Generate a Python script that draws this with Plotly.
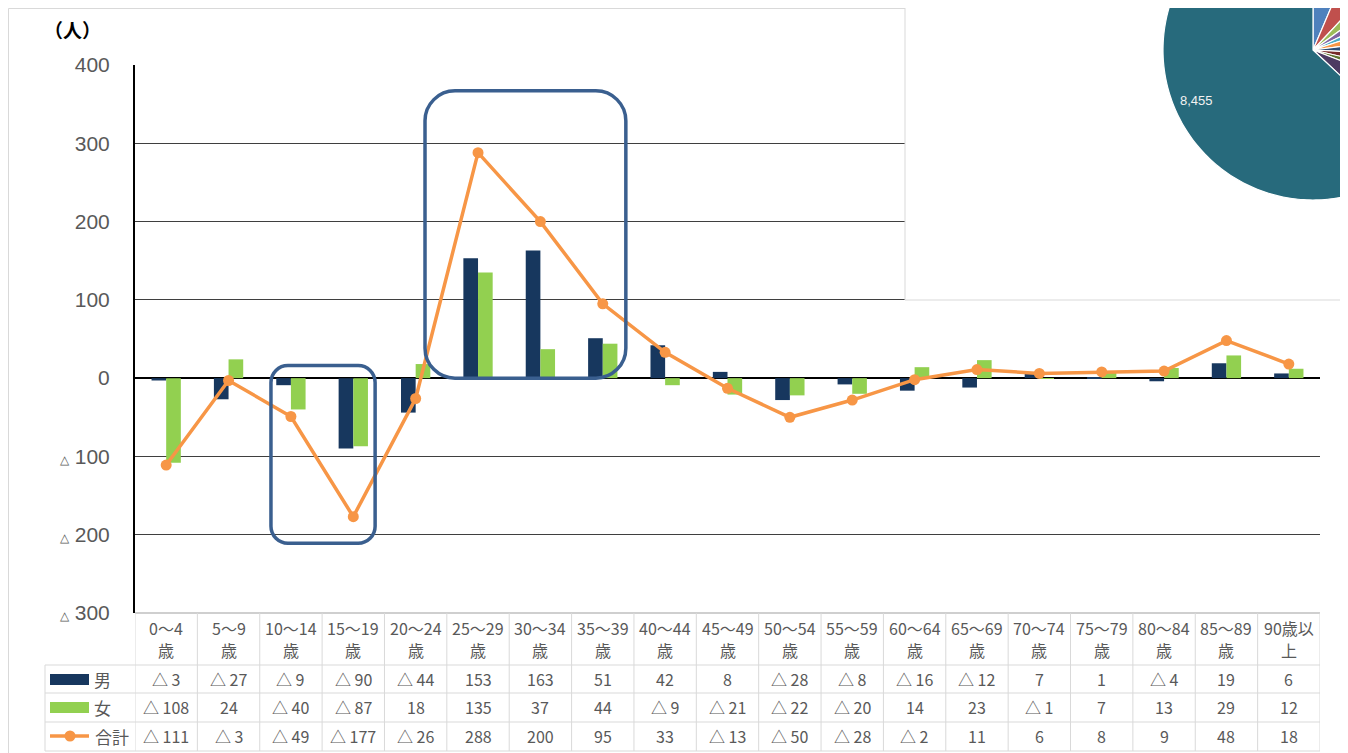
import math
import plotly.graph_objects as go

# ---------------- data ----------------
categories = ["0～4歳", "5～9歳", "10～14歳", "15～19歳", "20～24歳", "25～29歳",
              "30～34歳", "35～39歳", "40～44歳", "45～49歳", "50～54歳", "55～59歳",
              "60～64歳", "65～69歳", "70～74歳", "75～79歳", "80～84歳", "85～89歳",
              "90歳以上"]
male = [-3, -27, -9, -90, -44, 153, 163, 51, 42, 8, -28, -8, -16, -12, 7, 1, -4, 19, 6]
female = [-108, 24, -40, -87, 18, 135, 37, 44, -9, -21, -22, -20, 14, 23, -1, 7, 13, 29, 12]
total = [-111, -3, -49, -177, -26, 288, 200, 95, 33, -13, -50, -28, -2, 11, 6, 8, 9, 48, 18]
series_names = ["男", "女", "合計"]
y_ticks = [400, 300, 200, 100, 0, -100, -200, -300]

# partially visible pie in the top-right corner
pie_values = [857, 745, 410, 373, 298, 410, 373, 373, 298, 820, 8455]
pie_colors = ["#4F81BD", "#C0504D", "#9BBB59", "#8064A2", "#4BACC6", "#F79646",
              "#2C4D75", "#772C2A", "#5F7530", "#4D3B62", "#276A7C"]
pie_label_index = 10

# ---------------- layout helpers ----------------
W, H = 1348, 753
OFF = 8  # page body margin
def px(x):
    return (x - OFF) / W
def py(y):
    return 1 - (y - OFF) / H

PLOT_L, PLOT_R, PLOT_T, PLOT_B = 135, 1320, 65, 613
Y_MIN, Y_MAX = -300, 400
n = len(categories)
x_unit = (PLOT_R - PLOT_L) / n            # px per category
y_unit = (PLOT_B - PLOT_T) / (Y_MAX - Y_MIN)  # px per value unit

NAVY = "#17375E"
GREEN = "#92D050"
ORANGE = "#F79646"
GRAY_TXT = "#595959"
TABLE_LINE = "#D9D9D9"
CJK = "Noto Sans CJK JP"

def fmt(v):
    return f"△ {abs(v)}" if v < 0 else str(v)

xs = list(range(n))

fig = go.Figure()
fig.add_trace(go.Bar(x=xs, y=male, name=series_names[0], marker=dict(color=NAVY, line=dict(width=0))))
fig.add_trace(go.Bar(x=xs, y=female, name=series_names[1], marker=dict(color=GREEN, line=dict(width=0))))
fig.add_trace(go.Scatter(x=xs, y=total, name=series_names[2], mode="lines+markers",
                         line=dict(color=ORANGE, width=3.5),
                         marker=dict(color=ORANGE, size=11)))

ticktext = [str(v) if v >= 0 else f"<span style='font-size:12px'>△</span> {abs(v)}" for v in y_ticks]

shapes = []
annotations = []

# outer chart border
shapes.append(dict(type="rect", xref="paper", yref="paper", x0=px(8.5), x1=px(1400),
                   y0=py(800), y1=py(8.5), line=dict(color=TABLE_LINE, width=1),
                   fillcolor="rgba(0,0,0,0)", layer="below"))

# ---------------- data table ----------------
ROW_HDR_BOT = 665
ROW_LINES = [665, 693, 722, 751]
TABLE_L = 45
for yl in ROW_LINES:
    shapes.append(dict(type="line", xref="paper", yref="paper", x0=px(TABLE_L), x1=px(PLOT_R),
                       y0=py(yl), y1=py(yl), line=dict(color=TABLE_LINE, width=1), layer="above"))
shapes.append(dict(type="line", xref="paper", yref="paper", x0=px(PLOT_L), x1=px(PLOT_R),
                   y0=py(PLOT_B), y1=py(PLOT_B), line=dict(color="#BFBFBF", width=1.5), layer="above"))
for i in range(n + 1):
    shapes.append(dict(type="line", xref="x", yref="paper", x0=i - 0.5, x1=i - 0.5,
                       y0=py(751), y1=py(PLOT_B), line=dict(color=TABLE_LINE, width=1), layer="above"))
shapes.append(dict(type="line", xref="paper", yref="paper", x0=px(TABLE_L), x1=px(TABLE_L),
                   y0=py(751), y1=py(ROW_HDR_BOT), line=dict(color=TABLE_LINE, width=1), layer="above"))

TFONT = dict(family=CJK, size=16, color=GRAY_TXT)
# header labels
for i, c in enumerate(categories):
    annotations.append(dict(x=i, y=py(628), xref="x", yref="paper", text=c[:-1], showarrow=False,
                            font=TFONT, xanchor="center", yanchor="middle"))
    annotations.append(dict(x=i, y=py(650), xref="x", yref="paper", text=c[-1], showarrow=False,
                            font=TFONT, xanchor="center", yanchor="middle"))

row_centers = [679, 707, 736]
for vals, yc in zip([male, female, total], row_centers):
    for i, v in enumerate(vals):
        annotations.append(dict(x=i, y=py(yc), xref="x", yref="paper", text=fmt(v), showarrow=False,
                                font=TFONT, xanchor="center", yanchor="middle"))

# legend keys in the table
shapes.append(dict(type="rect", xref="paper", yref="paper", x0=px(50), x1=px(89),
                   y0=py(685), y1=py(674), fillcolor=NAVY, line=dict(width=0), layer="above"))
shapes.append(dict(type="rect", xref="paper", yref="paper", x0=px(50), x1=px(89),
                   y0=py(713), y1=py(702), fillcolor=GREEN, line=dict(width=0), layer="above"))
shapes.append(dict(type="line", xref="paper", yref="paper", x0=px(50), x1=px(89),
                   y0=py(736), y1=py(736), line=dict(color=ORANGE, width=3.5), layer="above"))
shapes.append(dict(type="circle", xref="paper", yref="paper", x0=px(64.5), x1=px(75.5),
                   y0=py(741.5), y1=py(730.5), fillcolor=ORANGE, line=dict(width=0), layer="above"))
for name, yc, xc in zip(series_names, row_centers, [102, 102, 112]):
    annotations.append(dict(x=px(xc), y=py(yc), xref="paper", yref="paper", text=name, showarrow=False,
                            font=dict(family=CJK, size=17, color=GRAY_TXT),
                            xanchor="center", yanchor="middle"))

# unit label
annotations.append(dict(x=px(72), y=py(30), xref="paper", yref="paper", text="<b>（人）</b>",
                        showarrow=False, font=dict(family=CJK, size=19, color="#000000"),
                        xanchor="center", yanchor="middle"))

# ---------------- highlight boxes (rounded rectangles, data coords) ----------------
def rrect_path(x0, x1, y0, y1, r_px):
    rx = r_px / x_unit
    ry = r_px / y_unit
    k = 0.5523
    p = [f"M {x0+rx},{y1}", f"L {x1-rx},{y1}",
         f"C {x1-rx+k*rx},{y1} {x1},{y1-ry+k*ry} {x1},{y1-ry}",
         f"L {x1},{y0+ry}",
         f"C {x1},{y0+ry-k*ry} {x1-rx+k*rx},{y0} {x1-rx},{y0}",
         f"L {x0+rx},{y0}",
         f"C {x0+rx-k*rx},{y0} {x0},{y0+ry-k*ry} {x0},{y0+ry}",
         f"L {x0},{y1-ry}",
         f"C {x0},{y1-ry+k*ry} {x0+rx-k*rx},{y1} {x0+rx},{y1}", "Z"]
    return " ".join(p)

BOX_COLOR = "#3A5F8F"
shapes.append(dict(type="path", xref="x", yref="y", path=rrect_path(1.68, 3.35, -211, 16, 17),
                   line=dict(color=BOX_COLOR, width=3.5), layer="above"))
shapes.append(dict(type="path", xref="x", yref="y", path=rrect_path(4.15, 7.37, 0, 367, 30),
                   line=dict(color=BOX_COLOR, width=3.5), layer="above"))

# ---------------- overlapping panel with pie (top right) ----------------
shapes.append(dict(type="rect", xref="paper", yref="paper", x0=px(905), x1=px(1400),
                   y0=py(300), y1=py(-20), fillcolor="white",
                   line=dict(color=TABLE_LINE, width=1), layer="above"))

PCX, PCY, PR = 1313, 50, 150
tot = sum(pie_values)
start = 0.0
label_pos = None
for idx, (v, col) in enumerate(zip(pie_values, pie_colors)):
    a0 = start
    a1 = start + v / tot * 2 * math.pi
    steps = max(4, int((a1 - a0) / 0.02))
    pts = [(PCX, PCY)]
    for s in range(steps + 1):
        a = a0 + (a1 - a0) * s / steps
        pts.append((PCX + PR * math.sin(a), PCY - PR * math.cos(a)))
    path = "M " + " L ".join(f"{px(x)},{py(y)}" for x, y in pts) + " Z"
    shapes.append(dict(type="path", xref="paper", yref="paper", path=path,
                       fillcolor=col, line=dict(color="white", width=1.2), layer="above"))
    if idx == pie_label_index:
        am = (a0 + a1) / 2
        label_pos = (PCX + 0.85 * PR * math.sin(am), PCY - 0.85 * PR * math.cos(am))
    start = a1

annotations.append(dict(x=px(label_pos[0]), y=py(label_pos[1]), xref="paper", yref="paper",
                        text=f"{pie_values[pie_label_index]:,}", showarrow=False,
                        xanchor="center", yanchor="middle",
                        font=dict(family="Liberation Sans", size=13, color="#F2F2F2")))

fig.update_layout(
    width=W, height=H,
    margin=dict(l=0, r=0, t=0, b=0, pad=0, autoexpand=False),
    paper_bgcolor="white", plot_bgcolor="white",
    showlegend=False,
    barmode="group", bargap=0.53, bargroupgap=0,
    xaxis=dict(domain=[px(PLOT_L), px(PLOT_R)], range=[-0.5, n - 0.5], showgrid=False,
               zeroline=False, showticklabels=False, showline=False, fixedrange=True,
               automargin=False),
    yaxis=dict(domain=[py(PLOT_B), py(PLOT_T)], range=[Y_MIN, Y_MAX], tickvals=y_ticks,
               ticktext=ticktext, tickfont=dict(family="Liberation Sans", size=21, color=GRAY_TXT),
               ticklabelstandoff=19, showgrid=True, gridcolor="#3F3F3F", gridwidth=1,
               zeroline=True, zerolinecolor="#000000", zerolinewidth=2, automargin=False,
               showline=True, linecolor="#000000", linewidth=2, ticks=""),
    shapes=shapes,
    annotations=annotations,
)

fig.write_html("out.html")
